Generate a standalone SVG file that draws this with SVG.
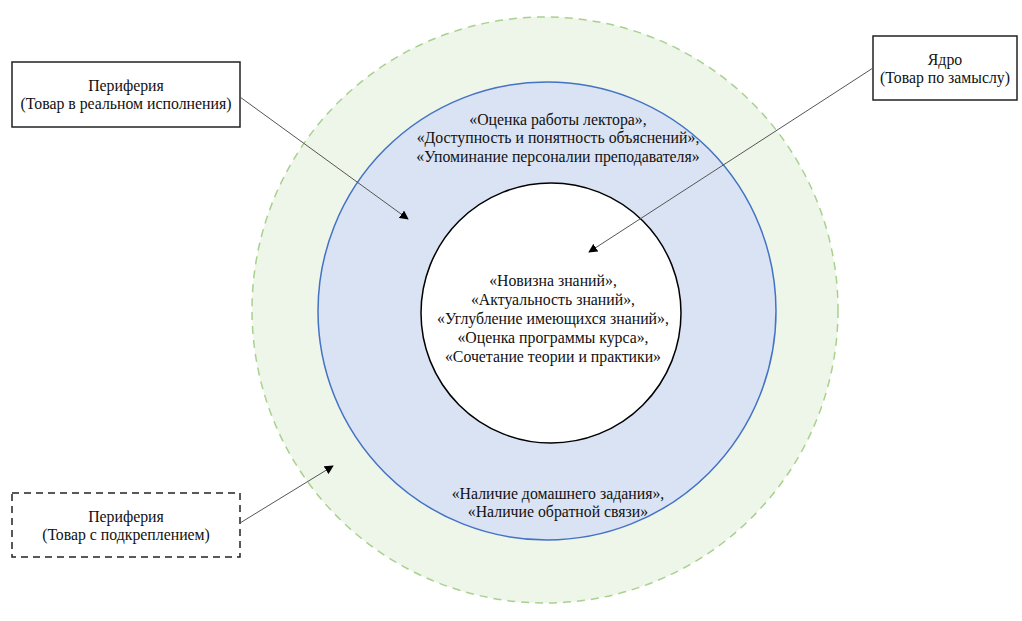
<svg xmlns="http://www.w3.org/2000/svg" width="1022" height="621" viewBox="0 0 1022 621">
<defs>
<style>
text{font-family:'Liberation Serif','DejaVu Serif',serif;font-size:15.8px;fill:#111;text-anchor:middle}
.box{fill:#fff;stroke:#222;stroke-width:1.5}
.conn{stroke:#555;stroke-width:1;fill:none;marker-end:url(#ah)}
</style>
<marker id="ah" viewBox="0 0 10 10" refX="9" refY="5" markerWidth="9" markerHeight="9" markerUnits="userSpaceOnUse" orient="auto">
<path d="M0,0 L10,5 L0,10 z" fill="#000"/>
</marker>
</defs>
<rect width="1022" height="621" fill="#fff"/>
<g id="outer">
<circle cx="545" cy="310" r="293" fill="#eef5e9" stroke="#a9d18e" stroke-width="1.5" stroke-dasharray="8,6"/>
</g>
<g id="middle">
<circle cx="547" cy="311" r="229" fill="#dae3f3" stroke="#4472c4" stroke-width="1.5"/>
<text x="558" y="125">«Оценка работы лектора»,</text>
<text x="558" y="143">«Доступность и понятность объяснений»,</text>
<text x="558" y="162">«Упоминание персоналии преподавателя»</text>
<text x="558" y="499">«Наличие домашнего задания»,</text>
<text x="558" y="517">«Наличие обратной связи»</text>
</g>
<g id="inner">
<circle cx="551" cy="313" r="130" fill="#fff" stroke="#000" stroke-width="1.5"/>
<text x="553" y="286">«Новизна знаний»,</text>
<text x="553" y="305">«Актуальность знаний»,</text>
<text x="553" y="324">«Углубление имеющихся знаний»,</text>
<text x="553" y="343">«Оценка программы курса»,</text>
<text x="553" y="362">«Сочетание теории и практики»</text>
</g>
<g id="box-periphery-real">
<rect class="box" x="12" y="62" width="228" height="65"/>
<text x="126" y="91">Периферия</text>
<text x="126" y="109">(Товар в реальном исполнения)</text>
</g>
<g id="box-core">
<rect class="box" x="873" y="36" width="144" height="64"/>
<text x="945" y="65">Ядро</text>
<text x="945" y="83">(Товар по замыслу)</text>
</g>
<g id="box-periphery-support">
<rect x="12" y="493" width="228" height="64" fill="#fff" stroke="#222" stroke-width="1.5" stroke-dasharray="7,5"/>
<text x="126" y="522">Периферия</text>
<text x="126" y="540">(Товар с подкреплением)</text>
</g>
<g id="connectors">
<line class="conn" x1="240" y1="97" x2="408" y2="219"/>
<line class="conn" x1="873" y1="68" x2="589" y2="252"/>
<line class="conn" x1="240" y1="523" x2="333" y2="466"/>
</g>
</svg>
